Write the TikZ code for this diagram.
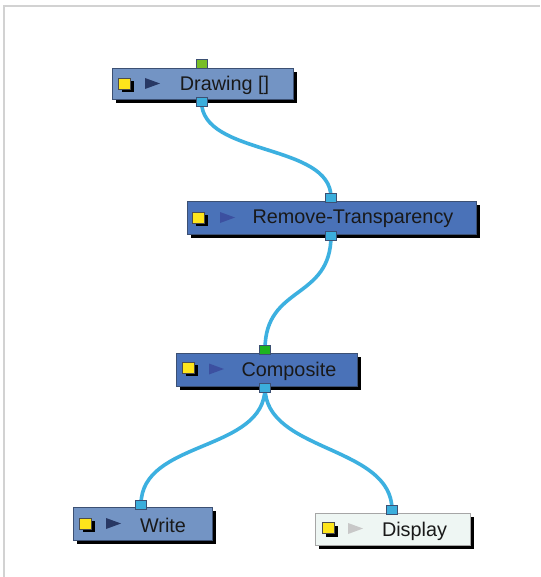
\documentclass[tikz,border=0pt]{standalone}
\usepackage{fontspec}
\setmainfont{Liberation Sans}
\usetikzlibrary{shadows,backgrounds}
\definecolor{nodelight}{RGB}{115,148,196}
\definecolor{nodedark}{RGB}{74,114,184}
\definecolor{nodepale}{RGB}{238,246,243}
\definecolor{nodeedge}{RGB}{60,80,115}
\definecolor{portblue}{RGB}{59,174,220}
\definecolor{portgreenA}{RGB}{120,190,40}
\definecolor{portgreenB}{RGB}{30,180,30}
\definecolor{wire}{RGB}{60,176,224}
\definecolor{tridark}{RGB}{40,56,100}
\definecolor{triblue}{RGB}{60,80,160}
\definecolor{trigray}{RGB}{200,200,200}
\definecolor{frame}{RGB}{210,210,210}
\tikzset{
  modbox/.style={draw=nodeedge, line width=0.8pt, minimum height=#1, inner sep=0pt,
    drop shadow={shadow xshift=4pt, shadow yshift=-4pt, fill=black, opacity=1}},
  port/.style={draw=nodeedge, line width=0.7pt, fill=portblue, minimum width=11pt, minimum height=9pt, inner sep=0pt},
  label/.style={font=\fontsize{19.8}{21}\selectfont, inner sep=0pt, text=black!90},
  ybox/.style={draw=black!70, line width=0.5pt, fill=yellow!85!orange!90, minimum width=12pt, minimum height=11pt, inner sep=0pt,
    drop shadow={shadow xshift=3pt, shadow yshift=-3pt, fill=black, opacity=1}},
  wireline/.style={draw=wire, line width=3.6pt}
}
\newcommand{\tri}[3]{\fill[#3] (#1,#2-5.5) -- (#1+15,#2) -- (#1,#2+5.5) -- cycle;}
\begin{document}
\begin{tikzpicture}[x=1pt,y=-1pt]
\useasboundingbox (0,0) rectangle (540,577);
\begin{scope}[on background layer]
\fill[white] (0,0) rectangle (540,577);
\draw[frame, line width=2pt] (4,577) -- (4,6.5) -- (540,6.5);
\end{scope}

% nodes
\node[modbox=31pt, minimum width=181pt, fill=nodelight] (draw) at (202.5,83.5) {};
\node[modbox=33pt, minimum width=289pt, fill=nodedark] (rt) at (331.5,217.5) {};
\node[modbox=33pt, minimum width=181pt, fill=nodedark] (comp) at (266.5,369.5) {};
\node[modbox=33pt, minimum width=139pt, fill=nodelight] (write) at (142.5,523.5) {};
\node[modbox=32pt, minimum width=155pt, fill=nodepale, draw=black!35] (disp) at (392.5,529) {};

% icons
\node[ybox] (ydraw) at (124.5,83.5) {};
\node[ybox] (yrt) at (198.5,217.5) {};
\node[ybox] (ycomp) at (188.5,367.5) {};
\node[ybox] (ywrite) at (85.5,523.5) {};
\node[ybox] (ydisp) at (328.5,528) {};
\tri{145}{83.5}{tridark}
\tri{220}{217.5}{triblue}
\tri{209}{369}{triblue}
\tri{106}{523.5}{tridark}
\tri{348}{528.5}{trigray}

% labels
\node[label] (tdraw) at (224.5,85) {Drawing []};
\node[label] (trt) at (353,219) {Remove-Transparency};
\node[label] (tcomp) at (289,371) {Composite};
\node[label] (twrite) at (163,525) {Write};
\node[label] (tdisp) at (414.5,531) {Display};

% ports
\node[port, fill=portgreenA] (pdrawin) at (201.5,63.5) {};
\node[port] (pdrawout) at (201.5,101.5) {};
\node[port] (prtin) at (331,197.5) {};
\node[port] (prtout) at (331,235.5) {};
\node[port, fill=portgreenB] (pcompin) at (265,349.5) {};
\node[port] (pcompout) at (265,387.5) {};
\node[port] (pwritein) at (141,504.5) {};
\node[port] (pdispin) at (392,510) {};

% wires
\begin{scope}[on background layer]
\draw[wireline] (pdrawout.center) .. controls +(0,55) and +(0,-55) .. (prtin.center);
\draw[wireline] (prtout.center) .. controls +(0,65) and +(0,-65) .. (pcompin.center);
\draw[wireline] (pcompout.center) .. controls +(0,65) and +(0,-65) .. (pwritein.center);
\draw[wireline] (pcompout.center) .. controls +(0,65) and +(0,-65) .. (pdispin.center);
\end{scope}
\end{tikzpicture}
\end{document}
